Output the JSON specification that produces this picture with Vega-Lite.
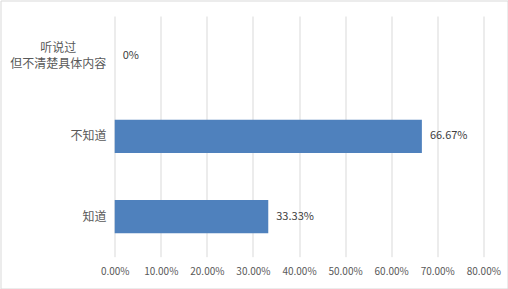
{
  "$schema": "https://vega.github.io/schema/vega-lite/v6.json",
  "width": 507,
  "height": 288,
  "autosize": {"type": "none"},
  "padding": {"left": 0.5, "top": 0.5, "right": 0.5, "bottom": 0.5},
  "background": "white",
  "config": {
    "view": {"stroke": "#D9D9D9", "strokeWidth": 1},
    "font": "Noto Sans CJK SC"
  },
  "data": {
    "values": [
      {"cat": "听说过但不清楚具体内容", "pct": 0, "label": "0%"},
      {"cat": "不知道", "pct": 0.6667, "label": "66.67%"},
      {"cat": "知道", "pct": 0.3333, "label": "33.33%"}
    ]
  },
  "encoding": {
    "y": {
      "field": "cat",
      "type": "nominal",
      "sort": ["听说过但不清楚具体内容", "不知道", "知道"],
      "scale": {"range": [15.5, 256.2], "paddingInner": 0.5875, "paddingOuter": 0.29375},
      "axis": {
        "orient": "left",
        "offset": -105.5,
        "title": null,
        "domain": false,
        "ticks": false,
        "tickSize": 0,
        "grid": false,
        "labelColor": "#595959",
        "labelFontSize": 12,
        "labelBaseline": "middle",
        "labelLineHeight": 16,
        "labelAlign": {"condition": {"test": "datum.value == '听说过但不清楚具体内容'", "value": "center"}, "value": "right"},
        "labelPadding": {"condition": {"test": "datum.value == '听说过但不清楚具体内容'", "value": 48.3}, "value": 0},
        "labelOffset": {"condition": {"test": "datum.value == '听说过但不清楚具体内容'", "value": -8}, "value": 0},
        "labelExpr": "datum.value == '听说过但不清楚具体内容' ? ['听说过', '但不清楚具体内容'] : datum.label"
      }
    },
    "x": {
      "field": "pct",
      "type": "quantitative",
      "scale": {"domain": [0, 0.8], "range": [114.2, 482.8], "nice": false, "zero": true},
      "axis": {
        "orient": "top",
        "offset": -270.5,
        "title": null,
        "values": [0, 0.1, 0.2, 0.3, 0.4, 0.5, 0.6, 0.7, 0.8],
        "format": ".2%",
        "domain": false,
        "ticks": false,
        "tickSize": 0,
        "grid": true,
        "gridColor": "#D9D9D9",
        "gridWidth": 1,
        "labelColor": "#595959",
        "labelFontSize": 10,
        "labelBaseline": "middle",
        "labelPadding": 0,
        "labelFlush": false,
        "labelOverlap": false
      }
    }
  },
  "layer": [
    {"mark": {"type": "bar", "color": "#4F81BD"}},
    {
      "mark": {"type": "text", "align": "left", "baseline": "middle", "dx": 8, "fontSize": 11, "color": "#404040"},
      "encoding": {"text": {"field": "label", "type": "nominal"}}
    }
  ]
}
